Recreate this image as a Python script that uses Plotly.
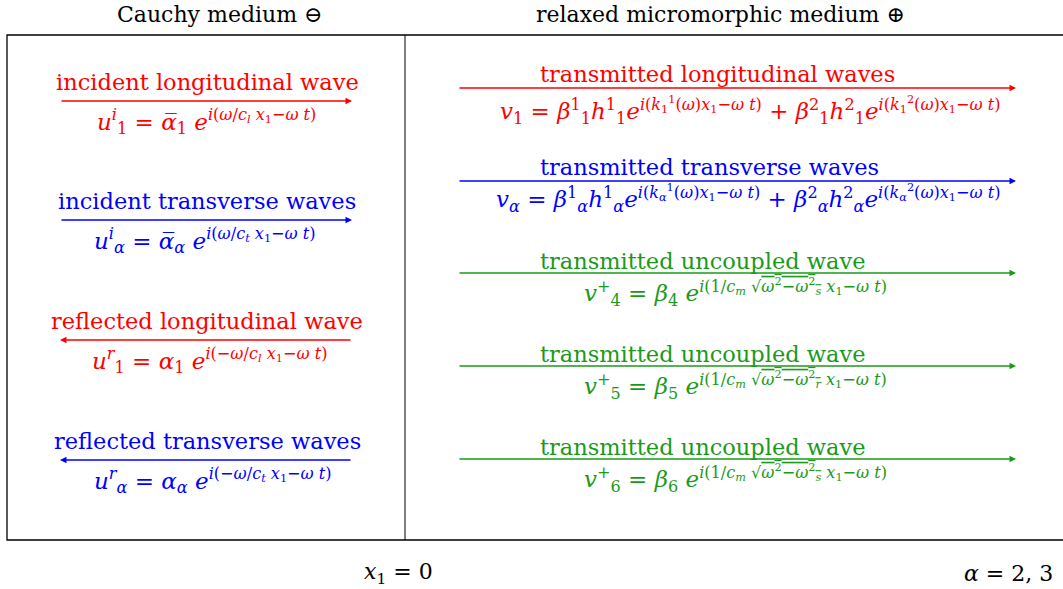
import plotly.graph_objects as go

# ---- content -------------------------------------------------------------
headers = ["Cauchy medium ⊖", "relaxed micromorphic medium ⊕"]
footers = ["<i>x</i><sub>1</sub> = 0", "<i>α</i> = 2, 3"]

left_labels = ["incident longitudinal wave", "incident transverse waves",
               "reflected longitudinal wave", "reflected transverse waves"]
left_formulas = [
    "<i>u</i><sup><i>i</i></sup><sub>1</sub> = <i>α̅</i><sub>1</sub> <i>e</i><sup><i>i</i>(<i>ω</i>/<i>c<sub>l</sub></i> <i>x</i><sub>1</sub>−<i>ω t</i>)</sup>",
    "<i>u</i><sup><i>i</i></sup><sub><i>α</i></sub> = <i>α̅</i><sub><i>α</i></sub> <i>e</i><sup><i>i</i>(<i>ω</i>/<i>c<sub>t</sub></i> <i>x</i><sub>1</sub>−<i>ω t</i>)</sup>",
    "<i>u</i><sup><i>r</i></sup><sub>1</sub> = <i>α</i><sub>1</sub> <i>e</i><sup><i>i</i>(−<i>ω</i>/<i>c<sub>l</sub></i> <i>x</i><sub>1</sub>−<i>ω t</i>)</sup>",
    "<i>u</i><sup><i>r</i></sup><sub><i>α</i></sub> = <i>α</i><sub><i>α</i></sub> <i>e</i><sup><i>i</i>(−<i>ω</i>/<i>c<sub>t</sub></i> <i>x</i><sub>1</sub>−<i>ω t</i>)</sup>",
]
left_colors = ["#ff0000", "#0000ff", "#ff0000", "#0000ff"]
left_dirs = [1, 1, -1, -1]

right_labels = ["transmitted longitudinal waves", "transmitted transverse waves",
                "transmitted uncoupled wave", "transmitted uncoupled wave",
                "transmitted uncoupled wave"]
right_formulas = [
    "<i>v</i><sub>1</sub> = <i>β</i><sup>1</sup><sub>1</sub><i>h</i><sup>1</sup><sub>1</sub><i>e</i><sup><i>i</i>(<i>k</i><sub>1</sub><sup>1</sup>(<i>ω</i>)<i>x</i><sub>1</sub>−<i>ω t</i>)</sup> + <i>β</i><sup>2</sup><sub>1</sub><i>h</i><sup>2</sup><sub>1</sub><i>e</i><sup><i>i</i>(<i>k</i><sub>1</sub><sup>2</sup>(<i>ω</i>)<i>x</i><sub>1</sub>−<i>ω t</i>)</sup>",
    "<i>v<sub>α</sub></i> = <i>β</i><sup>1</sup><sub><i>α</i></sub><i>h</i><sup>1</sup><sub><i>α</i></sub><i>e</i><sup><i>i</i>(<i>k</i><sub><i>α</i></sub><sup>1</sup>(<i>ω</i>)<i>x</i><sub>1</sub>−<i>ω t</i>)</sup> + <i>β</i><sup>2</sup><sub><i>α</i></sub><i>h</i><sup>2</sup><sub><i>α</i></sub><i>e</i><sup><i>i</i>(<i>k</i><sub><i>α</i></sub><sup>2</sup>(<i>ω</i>)<i>x</i><sub>1</sub>−<i>ω t</i>)</sup>",
    "<i>v</i><sup>+</sup><sub>4</sub> = <i>β</i><sub>4</sub> <i>e</i><sup><i>i</i>(1/<i>c<sub>m</sub></i> √<span style='text-decoration:overline'><i>ω</i><sup>2</sup>−<i>ω</i><sup>2</sup><sub><i>s</i></sub></span> <i>x</i><sub>1</sub>−<i>ω t</i>)</sup>",
    "<i>v</i><sup>+</sup><sub>5</sub> = <i>β</i><sub>5</sub> <i>e</i><sup><i>i</i>(1/<i>c<sub>m</sub></i> √<span style='text-decoration:overline'><i>ω</i><sup>2</sup>−<i>ω</i><sup>2</sup><sub><i>r</i></sub></span> <i>x</i><sub>1</sub>−<i>ω t</i>)</sup>",
    "<i>v</i><sup>+</sup><sub>6</sub> = <i>β</i><sub>6</sub> <i>e</i><sup><i>i</i>(1/<i>c<sub>m</sub></i> √<span style='text-decoration:overline'><i>ω</i><sup>2</sup>−<i>ω</i><sup>2</sup><sub><i>s</i></sub></span> <i>x</i><sub>1</sub>−<i>ω t</i>)</sup>",
]
right_colors = ["#ff0000", "#0000ff", "#1a9a1a", "#1a9a1a", "#1a9a1a"]

# ---- layout (pixel coordinate frame) -----------------------------------
W, H = 1063, 589
FONT = "DejaVu Serif"
LABEL_SIZE, FORM_SIZE, HEAD_SIZE = 22.5, 23, 22
box = dict(x0=7, x1=1075, y0=35, y1=540)
interface_x = 405

left_rows = [101, 220, 340, 460]          # arrow heights
left_span = (60, 352)
left_label_x = 207
left_form_x = [206, 205, 209, 213]

right_rows = [88, 181, 273, 366, 459]
right_span = (458, 1016)
right_label_x = 538
right_label_dy = [-14, -14, -12, -12, -12]
right_form_x = [750, 748, 735, 735, 735]
right_form_dy = [22, 17, 19, 19, 19]

fig = go.Figure()
fig.add_trace(go.Scatter(x=[0, W], y=[0, H], mode="markers",
                         marker=dict(opacity=0), hoverinfo="skip", showlegend=False))

fig.add_shape(type="rect", xref="x", yref="y", **box,
              line=dict(color="black", width=1.3))
fig.add_shape(type="line", xref="x", yref="y", x0=interface_x, x1=interface_x,
              y0=box["y0"], y1=box["y1"], line=dict(color="black", width=1))


def add_arrow(x0, x1, y, color, direction):
    tail, head = (x0, x1) if direction > 0 else (x1, x0)
    fig.add_annotation(x=head, y=y, ax=tail, ay=y, xref="x", yref="y",
                       axref="x", ayref="y", text="", showarrow=True,
                       arrowhead=2, arrowsize=1.0, arrowwidth=1.3,
                       arrowcolor=color)


def add_text(x, y, text, color, size, xanchor="center"):
    fig.add_annotation(x=x, y=y, xref="x", yref="y", text=text, showarrow=False,
                       xanchor=xanchor, yanchor="middle",
                       font=dict(family=FONT, size=size, color=color))


for lab, frm, col, d, yy, fx in zip(left_labels, left_formulas, left_colors,
                                    left_dirs, left_rows, left_form_x):
    add_arrow(left_span[0], left_span[1], yy, col, d)
    add_text(left_label_x, yy - 19, lab, col, LABEL_SIZE)
    add_text(fx, yy + 20, frm, col, FORM_SIZE)

for lab, frm, col, yy, ldy, fx, fdy in zip(right_labels, right_formulas, right_colors,
                                           right_rows, right_label_dy,
                                           right_form_x, right_form_dy):
    add_arrow(right_span[0], right_span[1], yy, col, 1)
    add_text(right_label_x, yy + ldy, lab, col, LABEL_SIZE, xanchor="left")
    add_text(fx, yy + fdy, frm, col, FORM_SIZE)

add_text(220, 14, headers[0], "black", HEAD_SIZE)
add_text(720, 14, headers[1], "black", HEAD_SIZE)
add_text(398, 573, footers[0], "black", HEAD_SIZE)
add_text(1055, 573, footers[1], "black", HEAD_SIZE, xanchor="right")

fig.update_xaxes(range=[0, W], visible=False, fixedrange=True)
fig.update_yaxes(range=[H, 0], visible=False, fixedrange=True)
fig.update_layout(width=W, height=H, margin=dict(l=0, r=0, t=0, b=0),
                  plot_bgcolor="white", paper_bgcolor="white", showlegend=False)

fig.write_html("out.html", config={"displayModeBar": False},
               post_script="document.body.style.margin='0';document.body.style.overflow='hidden';")
